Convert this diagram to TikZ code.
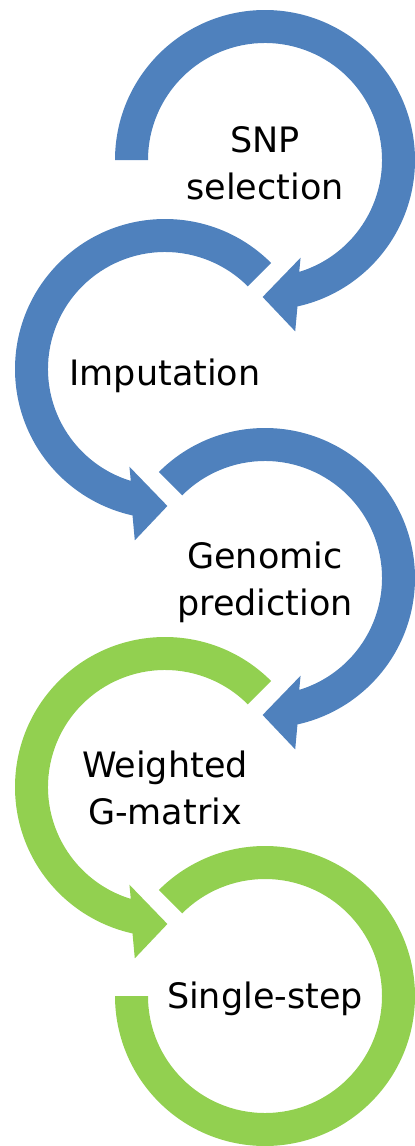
\documentclass[tikz,border=0pt]{standalone}
\usepackage{fontspec}
\setmainfont{DejaVu Sans}
\usepackage{tikz}
\usepackage{xcolor}
\usetikzlibrary{calc}
\definecolor{cBlue}{RGB}{79,129,189}
\definecolor{cGreen}{RGB}{146,208,80}
\tikzset{
    steplabel/.style={font=\fontsize{35}{47}\selectfont, align=center, inner sep=0pt, text=black},
    % ring turning clockwise from angle #1, arrow tip at the bottom
    ringright/.style={insert path={(#1:150) arc[start angle=#1, end angle=-77.5, radius=150] -- (-80:174) -- (-91:137) -- (-70:104) -- (-73:117) arc[start angle=-73, end angle=#1, radius=117] -- cycle}},
    % ring turning anticlockwise from 45 degrees, arrow tip at the bottom
    ringleft/.style={insert path={(45:150) arc[start angle=45, end angle=257.5, radius=150] -- (260:174) -- (271:137) -- (250:104) -- (253:117) arc[start angle=253, end angle=45, radius=117] -- cycle}},
    % last ring, no arrow tip
    ringlast/.style={insert path={(135:150) arc[start angle=135, end angle=-180, radius=150] -- (180:117) arc[start angle=-180, end angle=135, radius=117] -- cycle}},
}

\begin{document}
\begin{tikzpicture}[x=1pt, y=1pt]
    \useasboundingbox (0,0) rectangle (415,-1146);
    % centres of the rings
    \coordinate (csnp) at (265,-160);
    \coordinate (cimp) at (165,-369);
    \coordinate (cgp)  at (265,-578);
    \coordinate (cwg)  at (165,-787);
    \coordinate (css)  at (265,-996);

    \fill[cBlue, shift={(csnp)}, ringright=180];
    \fill[cBlue, shift={(cimp)}, ringleft];
    \fill[cBlue, shift={(cgp)}, ringright=135];
    \fill[cGreen, shift={(cwg)}, ringleft];
    \fill[cGreen, shift={(css)}, ringlast];

    \node[steplabel, yshift=-3.5] (snp) at (csnp) {SNP\\selection};
    \node[steplabel, anchor=base, yshift=-16] (imp) at (cimp) {Imputation};
    \node[steplabel, yshift=-4.6] (gp) at (cgp) {Genomic\\prediction};
    \node[steplabel, yshift=-1.2] (wg) at (cwg) {Weighted\\G-matrix};
    \node[steplabel, anchor=base, yshift=-12] (ss) at (css) {Single-step};
\end{tikzpicture}
\end{document}
